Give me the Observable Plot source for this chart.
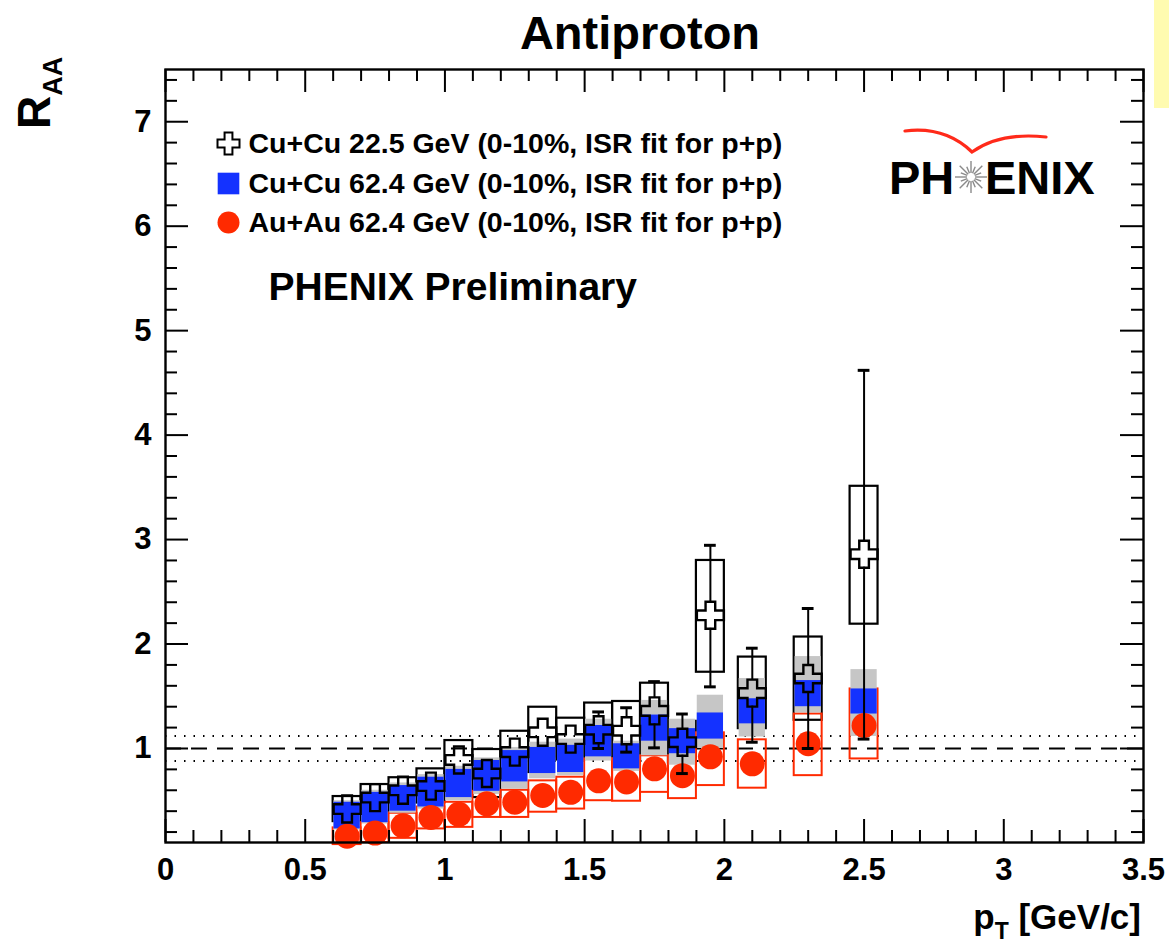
<!DOCTYPE html>
<html><head><meta charset="utf-8">
<script src="https://cdn.jsdelivr.net/npm/d3@7"></script>
<script src="https://cdn.jsdelivr.net/npm/@observablehq/plot@0.6"></script>
<style>
body{margin:0;background:#fff;}
#wrap{position:relative;width:1169px;height:947px;overflow:hidden;}
#yellow{position:absolute;left:1154px;top:0;width:15px;height:108px;background:#fffbb0;}
svg text{font-weight:bold;}
</style></head><body><div id="wrap"><div id="yellow"></div></div>
<script>
// pT bin centres (GeV/c)
const pt = [0.65,0.75,0.85,0.95,1.05,1.15,1.25,1.35,1.45,1.55,1.65,1.75,1.85,1.95,2.1,2.3,2.5];

// Cu+Cu 22.5 GeV (open crosses, open black boxes)
const cu22Val   = [0.42,0.53,0.60,0.64,0.89,0.76,0.965,1.155,1.09,1.18,1.17,1.36,1.06,2.275,1.53,1.67,2.86];
const cu22BoxLo = [0.30,0.40,0.48,0.48,0.70,0.53,0.77,0.92,0.89,0.93,0.89,1.10,0.86,1.73,1.19,1.27,2.19];
const cu22BoxHi = [0.54,0.655,0.72,0.805,1.076,0.99,1.165,1.395,1.29,1.435,1.45,1.625,1.26,2.80,1.875,2.067,3.51];
const cu22ErrLo = [0.37,0.48,0.55,0.58,0.80,0.69,0.89,1.07,1.00,1.00,0.965,1.006,0.76,1.59,1.06,1.00,1.09];
const cu22ErrHi = [0.47,0.58,0.65,0.70,1.00,0.83,1.04,1.24,1.18,1.35,1.39,1.64,1.33,2.945,1.96,2.34,4.62];

// Cu+Cu 62.4 GeV (blue filled boxes, grey systematic band)
const cu62Lo  = [0.23,0.29,0.40,0.44,0.53,0.59,0.68,0.76,0.77,0.92,0.805,1.07,0.95,1.09,1.236,1.40,1.33];
const cu62Hi  = [0.485,0.58,0.645,0.725,0.80,0.885,0.98,1.01,1.03,1.22,1.045,1.32,1.19,1.34,1.476,1.65,1.57];
const cu62GLo = [0.22,0.28,0.38,0.42,0.50,0.56,0.61,0.71,0.74,0.88,0.78,0.93,0.84,1.00,1.11,1.34,1.115];
const cu62GHi = [0.50,0.60,0.67,0.75,0.83,0.91,1.01,1.06,1.09,1.28,1.07,1.46,1.28,1.51,1.67,1.88,1.755];

// Au+Au 62.4 GeV (red filled circles, open red boxes)
const au62Val   = [0.16,0.19,0.26,0.34,0.37,0.47,0.485,0.55,0.58,0.69,0.68,0.805,0.74,0.92,0.853,1.045,1.22];
const au62BoxLo = [0.08,0.10,0.14,0.23,0.245,0.34,0.34,0.39,0.42,0.50,0.495,0.58,0.52,0.645,0.62,0.74,0.90];
const au62BoxHi = [0.24,0.29,0.38,0.44,0.485,0.59,0.60,0.69,0.725,0.90,0.90,0.93,0.89,1.15,1.083,1.33,1.57];

const refLines = [1];
const normLines = [0.88, 1.12];

const legendLabels = [
  "Cu+Cu 22.5 GeV (0-10%, ISR fit for p+p)",
  "Cu+Cu 62.4 GeV (0-10%, ISR fit for p+p)",
  "Au+Au 62.4 GeV (0-10%, ISR fit for p+p)"
];
const prelimLabel = "PHENIX Preliminary";
const xTicks = [0,0.5,1,1.5,2,2.5,3,3.5];
const yTicks = [1,2,3,4,5,6,7];
const xMinor = d3.range(1,35).map(i=>i/10).filter(v=>Math.abs(v*2-Math.round(v*2))>1e-6);
const yMinor = d3.range(1,38).map(i=>i/5).filter(v=>Math.abs(v-Math.round(v))>1e-6 && v>0.1 && v<7.5);

const BLUE = "#1432ff", RED = "#ff2a00", GREY = "#c6c6c6";
const FONT = "Liberation Sans, Arial, Helvetica, sans-serif";

const W = 1169, H = 947, ML = 165, MR = 26, MT = 69, MB = 105;
const IW = W - ML - MR, IH = H - MT - MB;

const rows = pt.map((x,i)=>({x, v:cu22Val[i], bl:cu22BoxLo[i], bh:cu22BoxHi[i], el:cu22ErrLo[i], eh:cu22ErrHi[i],
  b0:cu62Lo[i], b1:cu62Hi[i], g0:cu62GLo[i], g1:cu62GHi[i], r:au62Val[i], r0:au62BoxLo[i], r1:au62BoxHi[i]}));

// open cross symbol
const crossSym = {draw(ctx, size){
  const r = Math.sqrt(size/Math.PI), a = r/2.8;
  ctx.moveTo(-a,-r); ctx.lineTo(a,-r); ctx.lineTo(a,-a); ctx.lineTo(r,-a); ctx.lineTo(r,a);
  ctx.lineTo(a,a); ctx.lineTo(a,r); ctx.lineTo(-a,r); ctx.lineTo(-a,a); ctx.lineTo(-r,a);
  ctx.lineTo(-r,-a); ctx.lineTo(-a,-a); ctx.closePath();
}};

// error bar segments outside the cross marker
const yPerUnit = IH/(7.5-0.1);
const hw = 13/yPerUnit;
const segs = [];
rows.forEach(d=>{
  if (d.eh > d.v + hw) segs.push({x:d.x, y1:d.v+hw, y2:d.eh});
  if (d.el < d.v - hw) segs.push({x:d.x, y1:d.el, y2:d.v-hw});
});
const caps = [];
rows.forEach(d=>{
  if (d.eh > d.v + hw) caps.push({x:d.x, y:d.eh});
  if (d.el < d.v - hw) caps.push({x:d.x, y:d.el});
});

function decorations(index, scales, values, dims){
  const g = d3.create("svg:g").attr("font-family", FONT).attr("font-weight","bold").attr("fill","black").attr("text-anchor","start");
  // title
  g.append("text").attr("x", 640).attr("y", 49).attr("text-anchor","middle").attr("font-size",47).text("Antiproton");
  // y label
  const yl = g.append("text").attr("transform","translate(50,129) rotate(-90)").attr("font-size",46).attr("text-anchor","start");
  yl.append("tspan").text("R");
  yl.append("tspan").attr("dy",12).attr("font-size",27).text("AA");
  // x label
  const xl = g.append("text").attr("x", 1141).attr("y", 929).attr("text-anchor","end").attr("font-size",35);
  xl.append("tspan").text("p");
  xl.append("tspan").attr("dy",10).attr("font-size",23).text("T");
  xl.append("tspan").attr("dy",-10).text(" [GeV/c]");
  // PHENIX logo
  const lg = g.append("g").attr("text-anchor","start");
  lg.append("path").attr("d","M905,131 Q945,126 972,152 Q1000,132 1046,137")
    .attr("fill","none").attr("stroke","#ff2a1a").attr("stroke-width",3.2).attr("stroke-linecap","round");
  lg.append("text").attr("x",889).attr("y",194).attr("font-size",47).text("PH");
  lg.append("text").attr("x",985).attr("y",194).attr("font-size",47).text("ENIX");
  const cx = 971, cy = 177;
  for (let k=0;k<16;k++){
    const a = k*Math.PI/8;
    lg.append("line").attr("x1",cx+4*Math.cos(a)).attr("y1",cy+4*Math.sin(a))
      .attr("x2",cx+(k%2?11:16)*Math.cos(a)).attr("y2",cy+(k%2?11:16)*Math.sin(a))
      .attr("stroke","#8a8a8a").attr("stroke-width",1.4);
  }
  return g.node();
}

const legendMarks = [];
[74,114,153].forEach((dy,i)=>{
  legendMarks.push(Plot.text([legendLabels[i]], {frameAnchor: "top-left", dx: 83, dy, text: d=>d, textAnchor: "start", lineAnchor: "middle", fontSize: 28.5, fontWeight: "bold"}));
});

const plot = Plot.plot({
  width: W, height: H,
  marginLeft: ML, marginRight: MR, marginTop: MT, marginBottom: MB,
  x: {domain: [0, 3.5]},
  y: {domain: [0.1, 7.5]},
  style: {fontFamily: FONT, background: "transparent", overflow: "visible"},
  marks: [
    Plot.ruleY(normLines, {y: d=>d, stroke: "black", strokeWidth: 2, strokeDasharray: "1.5,8"}),
    Plot.ruleY(refLines, {y: d=>d, stroke: "black", strokeWidth: 2, strokeDasharray: "16,10"}),
    // open black boxes (Cu+Cu 22.5)
    Plot.rect(rows, {x1: d=>d.x-0.05, x2: d=>d.x+0.05, y1: "bl", y2: "bh", fill: "none", stroke: "black", strokeWidth: 2.2}),
    // open red boxes (Au+Au 62.4)
    Plot.rect(rows, {x1: d=>d.x-0.05, x2: d=>d.x+0.05, y1: "r0", y2: "r1", fill: "none", stroke: RED, strokeWidth: 2}),
    // grey + blue (Cu+Cu 62.4)
    Plot.rect(rows, {x1: d=>d.x-0.047, x2: d=>d.x+0.047, y1: "g0", y2: "g1", fill: GREY}),
    Plot.rect(rows, {x1: d=>d.x-0.047, x2: d=>d.x+0.047, y1: "b0", y2: "b1", fill: BLUE}),
    // red circles
    Plot.dot(rows, {x: "x", y: "r", r: 12.5, fill: RED, stroke: "none"}),
    // black error bars
    Plot.ruleX(segs, {x: "x", y1: "y1", y2: "y2", stroke: "black", strokeWidth: 2}),
    Plot.ruleY(caps, {y: "y", x1: d=>d.x-0.021, x2: d=>d.x+0.021, stroke: "black", strokeWidth: 3}),
    // open crosses
    Plot.dot(rows, {x: "x", y: "v", r: 13.5, symbol: crossSym, fill: "none", stroke: "black", strokeWidth: 2.4}),
    // ticks (inward, all four sides)
    Plot.ruleX(xTicks, {x: d=>d, insetTop: IH-23, stroke: "black", strokeWidth: 2}),
    Plot.ruleX(xTicks, {x: d=>d, insetBottom: IH-23, stroke: "black", strokeWidth: 2}),
    Plot.ruleX(xMinor, {x: d=>d, insetTop: IH-12, stroke: "black", strokeWidth: 2}),
    Plot.ruleX(xMinor, {x: d=>d, insetBottom: IH-12, stroke: "black", strokeWidth: 2}),
    Plot.ruleY(yTicks, {y: d=>d, insetRight: IW-23, stroke: "black", strokeWidth: 2}),
    Plot.ruleY(yTicks, {y: d=>d, insetLeft: IW-23, stroke: "black", strokeWidth: 2}),
    Plot.ruleY(yMinor, {y: d=>d, insetRight: IW-12, stroke: "black", strokeWidth: 2}),
    Plot.ruleY(yMinor, {y: d=>d, insetLeft: IW-12, stroke: "black", strokeWidth: 2}),
    Plot.frame({stroke: "black", strokeWidth: 2.4}),
    Plot.axisX({ticks: xTicks, tickSize: 0, tickPadding: 15, tickFormat: d=>String(d), fontSize: 31, fontWeight: "bold", label: null}),
    Plot.axisY({ticks: yTicks, tickSize: 0, tickPadding: 14, tickFormat: d=>String(d), fontSize: 31, fontWeight: "bold", label: null}),
    // legend
    Plot.dot([legendLabels[0]], {frameAnchor: "top-left", dx: 63, dy: 74, r: 11, symbol: crossSym, fill: "none", stroke: "black", strokeWidth: 2}),
    Plot.dot([legendLabels[1]], {frameAnchor: "top-left", dx: 63, dy: 114, r: 12.2, symbol: "square", fill: BLUE}),
    Plot.dot([legendLabels[2]], {frameAnchor: "top-left", dx: 63, dy: 153, r: 11, fill: RED}),
    ...legendMarks,
    Plot.text([prelimLabel], {frameAnchor: "top-left", dx: 103, dy: 218, text: d=>d, textAnchor: "start", lineAnchor: "middle", fontSize: 39, fontWeight: "bold"}),
    decorations
  ]
});
document.getElementById("wrap").appendChild(plot);
</script></body></html>
